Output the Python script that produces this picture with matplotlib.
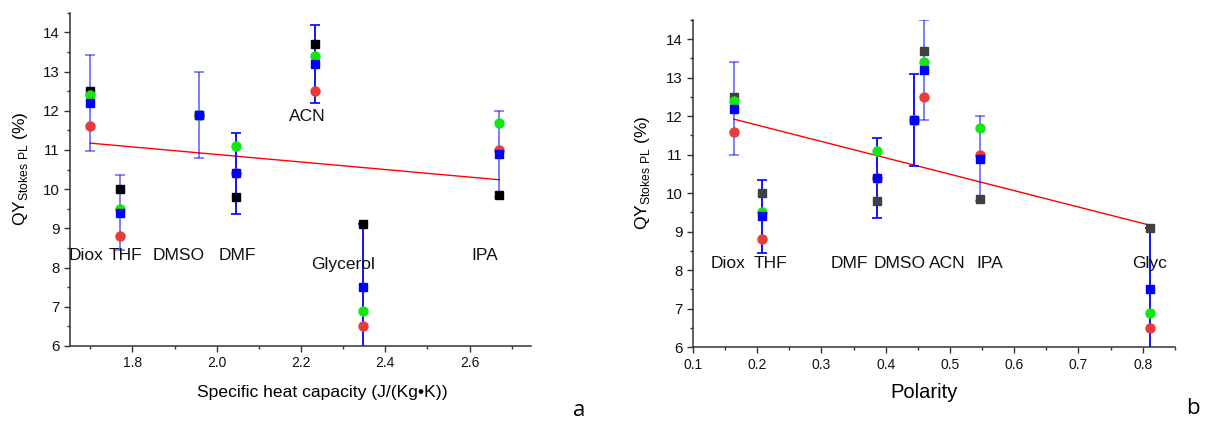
"""
QY (Stokes PL) vs specific heat capacity (a) and solvent polarity (b).
"""

import numpy as np
import matplotlib
matplotlib.use("Agg")
import matplotlib.pyplot as plt
from matplotlib.ticker import MultipleLocator

# ── Data ──────────────────────────────────────────────────────────────────────

solvents_a = ["Diox", "THF", "DMSO", "DMF", "ACN", "Glycerol", "IPA"]
heat_cap = [1.70, 1.77, 1.957, 2.046, 2.234, 2.347, 2.67]
qy_black_a = [12.5, 10.0, 11.9, 9.8, 13.7, 9.1, 9.85]
qy_red_a = [11.6, 8.8, 11.9, 10.4, 12.5, 6.5, 11.0]
qy_green_a = [12.4, 9.5, 11.9, 11.1, 13.4, 6.9, 11.7]
qy_blue_a = [12.2, 9.4, 11.9, 10.4, 13.2, 7.5, 10.9]
err_a = [1.22, 0.95, 1.1, 1.04, 1.0, 1.6, 1.1]

solvents_b = ["Diox", "THF", "DMF", "DMSO", "ACN", "IPA", "Glyc"]
polarity = [0.164, 0.207, 0.386, 0.444, 0.460, 0.546, 0.812]
qy_black_b = [12.5, 10.0, 9.8, 11.9, 13.7, 9.85, 9.1]
qy_red_b = [11.6, 8.8, 10.4, 11.9, 12.5, 11.0, 6.5]
qy_green_b = [12.4, 9.5, 11.1, 11.9, 13.4, 11.7, 6.9]
qy_blue_b = [12.2, 9.4, 10.4, 11.9, 13.2, 10.9, 7.5]
err_b = [1.22, 0.95, 1.04, 1.19, 1.31, 1.1, 1.6]

# label anchor positions (data coords)
lab_x_a = [1.69, 1.784, 1.91, 2.05, 2.214, 2.30, 2.635]
lab_y_a = [8.31, 8.31, 8.31, 8.31, 11.86, 8.07, 8.31]
lab_x_b = [0.154, 0.220, 0.343, 0.421, 0.496, 0.562, 0.811]
lab_y_b = [8.18] * 7

# ── Style ─────────────────────────────────────────────────────────────────────

RED = "#e83c3c"
GREEN = "#14e614"
BLUE = "#0000ff"
FONT = "Liberation Sans"

err_alpha_a = [0.55, 0.55, 0.55, 1.0, 1.0, 1.0, 0.55]
err_alpha_b = [0.55, 1.0, 1.0, 1.0, 0.55, 0.55, 1.0]

plt.rcParams.update({
    "font.family": FONT,
    "axes.linewidth": 1.1,
    "axes.edgecolor": "#333333",
})


def draw_panel(ax, x, black, red, green, blue, err, alphas, black_col,
               names, lx, ly, xlabel, xlim, xmaj, xmin, xlab_fs,
               xlab_pos, ylab_pos):
    for xi, yi, ei, al in zip(x, blue, err, alphas):
        ax.errorbar(xi, yi, yerr=ei, fmt="none", ecolor=BLUE, alpha=al,
                    elinewidth=1.3, capsize=3.5, capthick=1.2, zorder=2)
    ax.plot(x, black, "s", color=black_col, ms=5.7, ls="none", zorder=3)
    ax.plot(x, red, "o", color=RED, ms=6.5, ls="none", zorder=3)
    ax.plot(x, green, "o", color=GREEN, ms=6.5, ls="none", zorder=4)
    ax.plot(x, blue, "s", color=BLUE, ms=5.7, ls="none", zorder=5)

    # linear fit through the mean (blue) values
    k, b = np.polyfit(x, blue, 1)
    xf = np.array([min(x), max(x)])
    ax.plot(xf, k * xf + b, color="red", lw=1.0, zorder=1)

    for n, tx, ty in zip(names, lx, ly):
        ax.text(tx, ty, n, ha="center", va="center", fontsize=12.5,
                color="#111111", zorder=6)

    ax.set_xlim(*xlim)
    ax.set_ylim(6, 14.5)
    ax.xaxis.set_major_locator(MultipleLocator(xmaj))
    ax.xaxis.set_minor_locator(MultipleLocator(xmin))
    ax.yaxis.set_major_locator(MultipleLocator(1))
    ax.yaxis.set_minor_locator(MultipleLocator(0.5))
    ax.tick_params(which="major", direction="out", length=4, width=1.0,
                   colors="#333333", labelcolor="#111111")
    ax.tick_params(axis="x", labelsize=10)
    ax.tick_params(axis="y", labelsize=10.8)
    ax.tick_params(which="minor", direction="out", length=2.5, width=1.0,
                   colors="#333333")
    for s in ("top", "right"):
        ax.spines[s].set_visible(False)
    ax.set_xlabel(xlabel, fontsize=xlab_fs, va="center")
    ax.xaxis.set_label_coords(*xlab_pos)
    ax.set_ylabel(r"QY$_{\mathregular{Stokes\ PL}}$ (%)", fontsize=12.5)
    ax.yaxis.set_label_coords(*ylab_pos)


fig = plt.figure(figsize=(12.05, 4.25), dpi=100)
ax_a = fig.add_axes([0.0581, 0.186, 0.3826, 0.784])
ax_b = fig.add_axes([0.575, 0.183, 0.400, 0.770])

draw_panel(ax_a, heat_cap, qy_black_a, qy_red_a, qy_green_a, qy_blue_a,
           err_a, err_alpha_a, "black", solvents_a, lab_x_a, lab_y_a,
           "Specific heat capacity (J/(Kg•K))", (1.652, 2.746), 0.2, 0.1,
           12.6, (0.548, -0.14), (-0.087, 0.531))
draw_panel(ax_b, polarity, qy_black_b, qy_red_b, qy_green_b, qy_blue_b,
           err_b, err_alpha_b, "#404040", solvents_b, lab_x_b, lab_y_b,
           "Polarity", (0.1, 0.85), 0.1, 0.05,
           14.5, (0.480, -0.137), (-0.085, 0.532))

fig.text(0.481, 0.022, "a", fontsize=16, family="Open Sans", ha="center")
fig.text(0.990, 0.027, "b", fontsize=16, family="Open Sans", ha="center")

fig.savefig("out.png", dpi=100, facecolor="white")
